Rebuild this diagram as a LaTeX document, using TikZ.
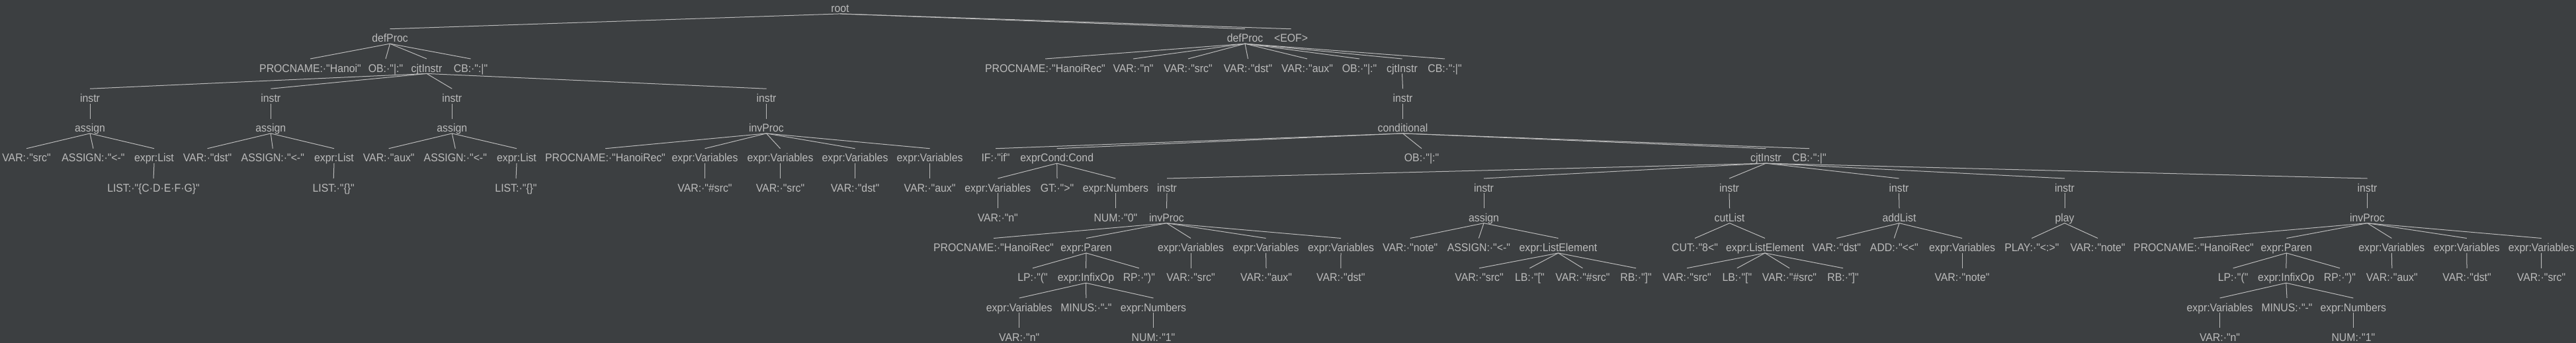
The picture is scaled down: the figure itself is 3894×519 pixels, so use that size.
\documentclass[tikz,border=0pt]{standalone}
\usepackage{fontspec}
\newfontfamily\tfont{Liberation Sans}[FakeStretch=0.93,Ligatures=TeXOff]
\definecolor{bgc}{HTML}{3C3F41}
\definecolor{fgc}{HTML}{BBBBBB}
\tikzset{
  t/.style={anchor=base,inner sep=0pt,text height=20pt,text depth=2pt,text=fgc,font=\tfont\fontsize{17}{17}\selectfont},
  e/.style={draw=fgc,line width=1pt}
}
\newcommand\N[4]{\node[t] (#1) at (#2,{18.7+45.25*#3}) {#4};}
\begin{document}
\begin{tikzpicture}[x=1pt,y=-1pt]
\fill[bgc] (0,0) rectangle (3894,519);
\useasboundingbox (0,0) rectangle (3894,519);
% level 0-1
\N{root}{1270}{0}{root}
\N{dp1}{589.5}{1}{defProc}
\N{dp2}{1882}{1}{defProc}
\N{eof}{1951.5}{1}{<EOF>}
% level 2
\N{pn1}{469}{2}{PROCNAME:·"Hanoi"}
\N{ob1}{583}{2}{OB:·"|:"}
\N{cj1}{645}{2}{cjtInstr}
\N{cb1}{711.5}{2}{CB:·":|"}
\N{pn2}{1580}{2}{PROCNAME:·"HanoiRec"}
\N{vn2}{1713}{2}{VAR:·"n"}
\N{vs2}{1796}{2}{VAR:·"src"}
\N{vd2}{1886.5}{2}{VAR:·"dst"}
\N{va2}{1976}{2}{VAR:·"aux"}
\N{ob2}{2055}{2}{OB:·"|:"}
\N{cj2}{2119.5}{2}{cjtInstr}
\N{cb2}{2184}{2}{CB:·":|"}
% level 3
\N{i1}{136}{3}{instr}
\N{i2}{409.3}{3}{instr}
\N{i3}{683.3}{3}{instr}
\N{i4}{1158.5}{3}{instr}
\N{i5}{2120.5}{3}{instr}
% level 4
\N{as1}{136}{4}{assign}
\N{as2}{409.3}{4}{assign}
\N{as3}{683.3}{4}{assign}
\N{ip1}{1158.5}{4}{invProc}
\N{cond}{2120.5}{4}{conditional}
% level 5
\N{a1v}{40}{5}{VAR:·"src"}
\N{a1a}{141}{5}{ASSIGN:·"<-"}
\N{a1e}{233}{5}{expr:List}
\N{a2v}{313.5}{5}{VAR:·"dst"}
\N{a2a}{412.3}{5}{ASSIGN:·"<-"}
\N{a2e}{505}{5}{expr:List}
\N{a3v}{587.7}{5}{VAR:·"aux"}
\N{a3a}{688.3}{5}{ASSIGN:·"<-"}
\N{a3e}{781}{5}{expr:List}
\N{ipn}{915}{5}{PROCNAME:·"HanoiRec"}
\N{ipv1}{1065.5}{5}{expr:Variables}
\N{ipv2}{1179.5}{5}{expr:Variables}
\N{ipv3}{1292.5}{5}{expr:Variables}
\N{ipv4}{1405.5}{5}{expr:Variables}
\N{cif}{1505}{5}{IF:·"if"}
\N{ccond}{1597.7}{5}{exprCond:Cond}
\N{cob}{2149}{5}{OB:·"|:"}
\N{ccj}{2669.4}{5}{cjtInstr}
\N{ccb}{2735}{5}{CB:·":|"}
% level 6
\N{l1}{232}{6}{LIST:·"\{C·D·E·F·G\}"}
\N{l2}{504.2}{6}{LIST:·"\{\}"}
\N{l3}{780}{6}{LIST:·"\{\}"}
\N{v1}{1065.5}{6}{VAR:·"\#src"}
\N{v2}{1179.5}{6}{VAR:·"src"}
\N{v3}{1292.5}{6}{VAR:·"dst"}
\N{v4}{1405.5}{6}{VAR:·"aux"}
\N{cv}{1508.3}{6}{expr:Variables}
\N{cgt}{1598}{6}{GT:·">"}
\N{cnum}{1686.4}{6}{expr:Numbers}
\N{j1}{1764}{6}{instr}
\N{j2}{2243}{6}{instr}
\N{j3}{2614}{6}{instr}
\N{j4}{2870.5}{6}{instr}
\N{j5}{3121}{6}{instr}
\N{j6}{3578.5}{6}{instr}
% level 7
\N{cvn}{1508.3}{7}{VAR:·"n"}
\N{cn0}{1686.4}{7}{NUM:·"0"}
\N{k1}{1763.5}{7}{invProc}
\N{k2}{2243}{7}{assign}
\N{k3}{2614.5}{7}{cutList}
\N{k4}{2871}{7}{addList}
\N{k5}{3121}{7}{play}
\N{k6}{3578.5}{7}{invProc}
% level 8
\N{k1n}{1502}{8}{PROCNAME:·"HanoiRec"}
\N{k1p}{1642}{8}{expr:Paren}
\N{k1v1}{1800}{8}{expr:Variables}
\N{k1v2}{1913.6}{8}{expr:Variables}
\N{k1v3}{2027}{8}{expr:Variables}
\N{k2v}{2131.7}{8}{VAR:·"note"}
\N{k2a}{2235.3}{8}{ASSIGN:·"<-"}
\N{k2e}{2355.5}{8}{expr:ListElement}
\N{k3c}{2562}{8}{CUT:·"8<"}
\N{k3e}{2668}{8}{expr:ListElement}
\N{k4v}{2776.3}{8}{VAR:·"dst"}
\N{k4a}{2863.3}{8}{ADD:·"<<"}
\N{k4e}{2966}{8}{expr:Variables}
\N{k5p}{3071.3}{8}{PLAY:·"<:>"}
\N{k5v}{3171}{8}{VAR:·"note"}
\N{k6n}{3316}{8}{PROCNAME:·"HanoiRec"}
\N{k6p}{3456.3}{8}{expr:Paren}
\N{k6v1}{3615.3}{8}{expr:Variables}
\N{k6v2}{3728.8}{8}{expr:Variables}
\N{k6v3}{3841.7}{8}{expr:Variables}
% level 9
\N{k1lp}{1561}{9}{LP:·"("}
\N{k1io}{1641.5}{9}{expr:InfixOp}
\N{k1rp}{1721.8}{9}{RP:·")"}
\N{k1s}{1800}{9}{VAR:·"src"}
\N{k1a}{1914}{9}{VAR:·"aux"}
\N{k1d}{2026.8}{9}{VAR:·"dst"}
\N{k2s}{2236}{9}{VAR:·"src"}
\N{k2lb}{2312.3}{9}{LB:·"["}
\N{k2h}{2392.4}{9}{VAR:·"\#src"}
\N{k2rb}{2473}{9}{RB:·"]"}
\N{k3s}{2550}{9}{VAR:·"src"}
\N{k3lb}{2625.8}{9}{LB:·"["}
\N{k3h}{2705}{9}{VAR:·"\#src"}
\N{k3rb}{2786}{9}{RB:·"]"}
\N{k4n}{2966}{9}{VAR:·"note"}
\N{k6lp}{3375.6}{9}{LP:·"("}
\N{k6io}{3455.8}{9}{expr:InfixOp}
\N{k6rp}{3537}{9}{RP:·")"}
\N{k6a}{3615.8}{9}{VAR:·"aux"}
\N{k6d}{3729}{9}{VAR:·"dst"}
\N{k6s}{3841.5}{9}{VAR:·"src"}
% level 10
\N{k1iv}{1540.7}{10}{expr:Variables}
\N{k1im}{1641.8}{10}{MINUS:·"-"}
\N{k1in}{1743.5}{10}{expr:Numbers}
\N{k6iv}{3355.5}{10}{expr:Variables}
\N{k6im}{3457}{10}{MINUS:·"-"}
\N{k6in}{3557.3}{10}{expr:Numbers}
% level 11
\N{k1ivn}{1540.7}{11}{VAR:·"n"}
\N{k1inn}{1743.5}{11}{NUM:·"1"}
\N{k6ivn}{3355.5}{11}{VAR:·"n"}
\N{k6inn}{3557.3}{11}{NUM:·"1"}
% edges
\foreach \p/\c in {root/dp1,root/dp2,root/eof,
  dp1/pn1,dp1/ob1,dp1/cj1,dp1/cb1,
  dp2/pn2,dp2/vn2,dp2/vs2,dp2/vd2,dp2/va2,dp2/ob2,dp2/cj2,dp2/cb2,
  cj1/i1,cj1/i2,cj1/i3,cj1/i4,cj2/i5,
  i1/as1,i2/as2,i3/as3,i4/ip1,i5/cond,
  as1/a1v,as1/a1a,as1/a1e,as2/a2v,as2/a2a,as2/a2e,as3/a3v,as3/a3a,as3/a3e,
  ip1/ipn,ip1/ipv1,ip1/ipv2,ip1/ipv3,ip1/ipv4,
  cond/cif,cond/ccond,cond/cob,cond/ccj,cond/ccb,
  a1e/l1,a2e/l2,a3e/l3,ipv1/v1,ipv2/v2,ipv3/v3,ipv4/v4,
  ccond/cv,ccond/cgt,ccond/cnum,
  ccj/j1,ccj/j2,ccj/j3,ccj/j4,ccj/j5,ccj/j6,
  cv/cvn,cnum/cn0,j1/k1,j2/k2,j3/k3,j4/k4,j5/k5,j6/k6,
  k1/k1n,k1/k1p,k1/k1v1,k1/k1v2,k1/k1v3,
  k2/k2v,k2/k2a,k2/k2e,k3/k3c,k3/k3e,k4/k4v,k4/k4a,k4/k4e,k5/k5p,k5/k5v,
  k6/k6n,k6/k6p,k6/k6v1,k6/k6v2,k6/k6v3,
  k1p/k1lp,k1p/k1io,k1p/k1rp,k1v1/k1s,k1v2/k1a,k1v3/k1d,
  k2e/k2s,k2e/k2lb,k2e/k2h,k2e/k2rb,k3e/k3s,k3e/k3lb,k3e/k3h,k3e/k3rb,
  k4e/k4n,
  k6p/k6lp,k6p/k6io,k6p/k6rp,k6v1/k6a,k6v2/k6d,k6v3/k6s,
  k1io/k1iv,k1io/k1im,k1io/k1in,k6io/k6iv,k6io/k6im,k6io/k6in,
  k1iv/k1ivn,k1in/k1inn,k6iv/k6ivn,k6in/k6inn}
  {\draw[e] (\p.south) -- (\c.north);}
\end{tikzpicture}
\end{document}
